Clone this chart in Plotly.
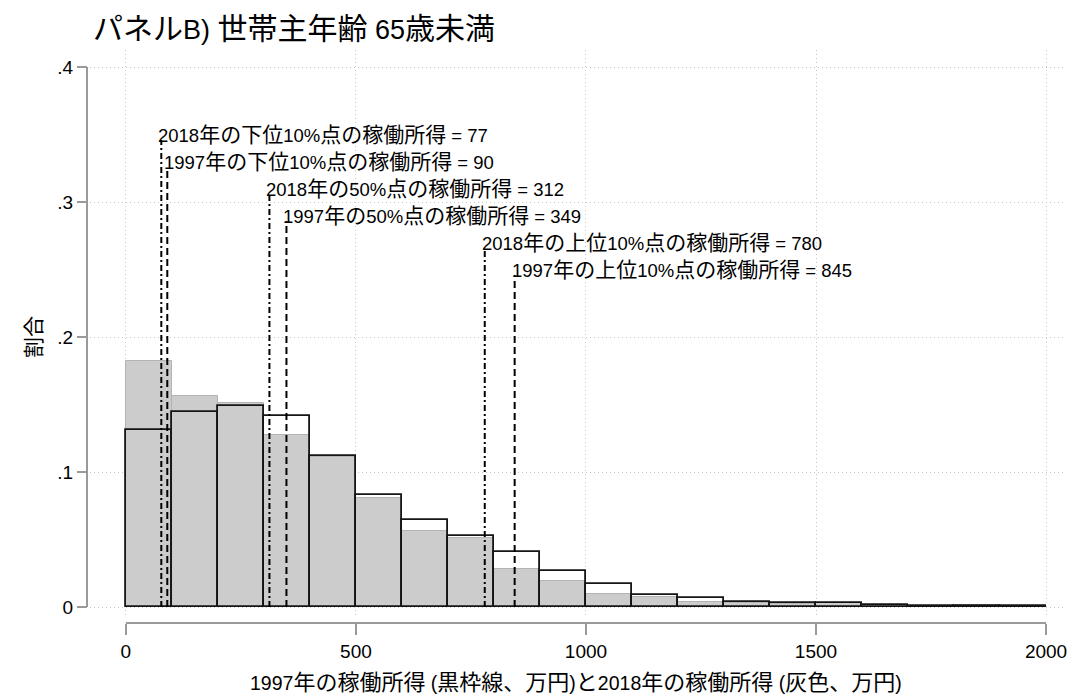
import re
import plotly.graph_objects as go

# Earned-income histogram shares, 100万円 bins from 0 to 2000
bin_left = list(range(0, 2000, 100))
share_1997 = [0.131, 0.1444, 0.149, 0.1412, 0.112, 0.0827, 0.0644, 0.0528, 0.0405, 0.0267,
              0.0173, 0.0091, 0.0069, 0.0037, 0.0028, 0.0028, 0.0012, 0.0005, 0.0007, 0.0005]
share_2018 = [0.182, 0.156, 0.1513, 0.1274, 0.1115, 0.0807, 0.0565, 0.0509, 0.0281, 0.0193,
              0.0096, 0.0077, 0.0037, 0.0033, 0.0025, 0.0027, 0.0011, 0.0003, 0.0013, 0.0003]

# Percentile markers: (year, label, value)
pct_year = ["2018", "1997", "2018", "1997", "2018", "1997"]
pct_name = ["下位10%点", "下位10%点", "50%点", "50%点", "上位10%点", "上位10%点"]
pct_value = [77, 90, 312, 349, 780, 845]
label_height = [0.35, 0.33, 0.31, 0.29, 0.27, 0.25]

x_ticks = [0, 500, 1000, 1500, 2000]
y_ticks = [0, 0.1, 0.2, 0.3, 0.4]
y_tick_text = ["0", ".1", ".2", ".3", ".4"]

FONT = "Liberation Sans, Arial, Noto Sans CJK JP, sans-serif"
W, H = 1075, 695
ML, MR, MT, MB = 87, 8, 50, 72
paper_w = W - ML - MR
paper_h = H - MT - MB

CJK_RUN = re.compile(r"([^\x00-\x7f]+)")


def mixed(text, cjk_size):
    """Render runs of Japanese characters a little larger than the Latin text."""
    return CJK_RUN.sub(lambda m: f'<span style="font-size:{cjk_size}px">{m.group(1)}</span>', text)


centers = [b + 50 for b in bin_left]

fig = go.Figure()
fig.add_trace(go.Bar(
    x=centers, y=share_2018, width=100,
    marker=dict(color="#cccccc", line=dict(color="#b4b4b4", width=1)),
    name="2018", showlegend=False, hoverinfo="skip",
))
fig.add_trace(go.Bar(
    x=centers, y=share_1997, width=100,
    marker=dict(color="rgba(0,0,0,0)", line=dict(color="#151515", width=1.8)),
    name="1997", showlegend=False, hoverinfo="skip",
))

shapes = []
annotations = []
for yr, nm, v, h in zip(pct_year, pct_name, pct_value, label_height):
    dash = "7px,4px" if yr == "1997" else "6px,3px,2px,3px"
    shapes.append(dict(type="line", xref="x", yref="y", x0=v, x1=v, y0=0, y1=h - 0.004,
                       line=dict(color="black", width=2, dash=dash), layer="above"))
    annotations.append(dict(
        x=v, y=h, xref="x", yref="y", xanchor="left", yanchor="middle",
        text=mixed(f"{yr}年の{nm}の稼働所得 = {v}", 21), showarrow=False, xshift=-5,
        font=dict(family=FONT, size=18.5, color="black"),
    ))

# Detached axis lines spanning only the data range
shapes.append(dict(type="line", xref="paper", yref="y", x0=0, x1=0, y0=0, y1=0.4,
                   line=dict(color="#9a9a9a", width=2)))
shapes.append(dict(type="line", xref="x", yref="paper", x0=0, x1=2000, y0=0, y1=0,
                   line=dict(color="#9a9a9a", width=2)))

# Axis titles
annotations.append(dict(
    x=0.5, y=0, xref="paper", yref="paper", xanchor="center", yanchor="middle",
    yshift=-(682 - (H - MB)), showarrow=False,
    text=mixed("1997年の稼働所得 (黒枠線、万円)と2018年の稼働所得 (灰色、万円)", 22),
    font=dict(family=FONT, size=19.5, color="black"),
))
annotations.append(dict(
    x=0, y=0.2, xref="paper", yref="y", xanchor="center", yanchor="middle",
    xshift=-(ML - 33), textangle=-90, showarrow=False, text="割合",
    font=dict(family=FONT, size=21, color="black"),
))

fig.update_layout(
    width=W, height=H,
    margin=dict(l=ML, r=MR, t=MT, b=MB, pad=0),
    paper_bgcolor="white", plot_bgcolor="white",
    barmode="overlay", bargap=0,
    font=dict(family=FONT, color="black"),
    title=dict(text=mixed("パネルB) 世帯主年齢 65歳未満", 30), x=93 / W, xanchor="left",
               xref="container", y=1 - 30 / H, yanchor="middle", yref="container",
               font=dict(family=FONT, size=27, color="black")),
    xaxis=dict(
        range=[-78, 2039], domain=[3 / paper_w, 1], anchor="free", position=0,
        tickvals=x_ticks, ticks="outside", ticklen=11, tickwidth=2, tickcolor="#9a9a9a",
        showline=False, zeroline=False,
        showgrid=True, gridcolor="#c8c8c8", gridwidth=1, griddash="1px,3px",
        tickfont=dict(family=FONT, size=19, color="black"),
    ),
    yaxis=dict(
        range=[-0.0059, 0.4126], domain=[8 / paper_h, 1], anchor="free", position=0,
        tickvals=y_ticks, ticktext=y_tick_text, ticks="outside", ticklen=10, tickwidth=2,
        tickcolor="#9a9a9a", showline=False, zeroline=False,
        showgrid=True, gridcolor="#c8c8c8", gridwidth=1, griddash="1px,3px",
        tickfont=dict(family=FONT, size=19, color="black"),
    ),
    shapes=shapes,
    annotations=annotations,
)

fig.write_html("out.html")
